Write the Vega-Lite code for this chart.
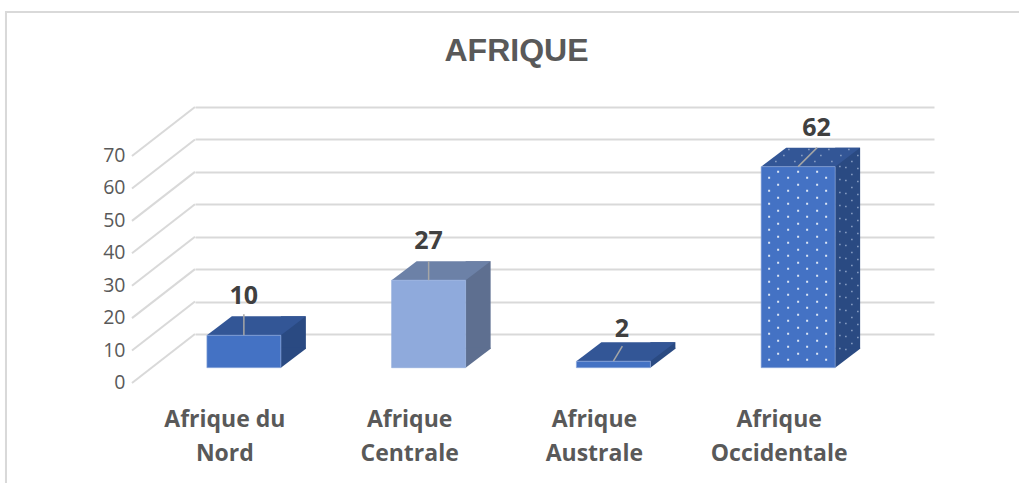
{"$schema":"https://vega.github.io/schema/vega-lite/v6.json","autosize":{"type":"none"},"width":739,"height":227,"padding":{"left":195,"top":107,"right":85,"bottom":149},"background":"white","config":{"view":{"stroke":null},"axisX":{"domain":false,"ticks":false,"labelAngle":0,"labelOffset":-62.5,"labelPadding":74.5,"labelFont":"Open Sans","labelFontWeight":"bold","labelFontSize":23,"labelColor":"#595959","labelLineHeight":33.5,"labelOverlap":false,"labelBound":false,"labelFlush":false,"labelLimit":400,"labelBaseline":"top","labelExpr":"datum.value == 'Afrique du Nord' ? ['Afrique du','Nord'] : split(datum.value,' ')","grid":false},"axisY":{"grid":true,"gridColor":"#D9D9D9","gridWidth":2,"domain":false,"ticks":false,"labelFont":"Open Sans","labelFontSize":19.5,"labelColor":"#595959","labelPadding":70,"labelOffset":48.5,"tickCount":8}},"title":{"text":"AFRIQUE","font":"Liberation Sans","fontWeight":"bold","fontSize":32,"color":"#595959","anchor":"middle","dx":-48,"offset":-60},"data":{"values":[{"region":"Afrique du Nord","value":10},{"region":"Afrique Centrale","value":27},{"region":"Afrique Australe","value":2},{"region":"Afrique Occidentale","value":62}]},"encoding":{"x":{"field":"region","type":"nominal","sort":null,"scale":{"paddingInner":0,"paddingOuter":0},"title":null},"y":{"field":"value","type":"quantitative","scale":{"domain":[0,70],"nice":false},"title":null}},"layer":[{"data":{"values":[{"tick":0},{"tick":10},{"tick":20},{"tick":30},{"tick":40},{"tick":50},{"tick":60},{"tick":70}]},"mark":{"type":"point","shape":"M0 0L-63 49","size":4,"filled":false,"opacity":1,"stroke":"#D9D9D9","strokeWidth":2,"xOffset":-92.4},"encoding":{"x":{"datum":"Afrique du Nord","type":"nominal","title":null},"y":{"field":"tick","type":"quantitative","title":null}}},{"data":{"values":[{"tick":70}]},"mark":{"type":"point","shape":"M-189 376L-189 -95L824 -95","size":4,"filled":false,"opacity":1,"stroke":"#D9D9D9","strokeWidth":2,"xOffset":-92.4},"encoding":{"x":{"datum":"Afrique du Nord","type":"nominal","title":null},"y":{"field":"tick","type":"quantitative","title":null}}},{"mark":{"type":"bar","size":25,"xOffset":6,"yOffset":14.7,"y2Offset":14.7},"encoding":{"y2":{"datum":0},"color":{"condition":{"test":"datum.region === 'Afrique Centrale'","value":"#5E6F90"},"value":"#2A4A82"}}},{"mark":{"type":"point","shape":"M37 0L62 -19L62 -20L37 -20Z","size":4,"filled":true,"opacity":1,"xOffset":-43.5,"yOffset":33.7},"encoding":{"y":{"datum":0,"type":"quantitative","title":null},"color":{"condition":{"test":"datum.region === 'Afrique Centrale'","value":"#5E6F90"},"value":"#2A4A82"}}},{"mark":{"type":"point","shape":"M-37 0L37 0L62 -19L-12 -19Z","size":4,"filled":true,"opacity":1,"xOffset":-43.5,"yOffset":33.7},"encoding":{"color":{"condition":{"test":"datum.region === 'Afrique Centrale'","value":"#6C81A7"},"value":"#335696"}}},{"mark":{"type":"bar","size":74,"xOffset":-43.5,"yOffset":33.7,"y2Offset":33.7,"stroke":"#8FAADC","strokeWidth":0.6},"encoding":{"y2":{"datum":0},"color":{"condition":{"test":"datum.region === 'Afrique Centrale'","value":"#8FAADC"},"value":"#4472C4"}}},{"transform":[{"filter":"datum.region === 'Afrique Occidentale'"}],"mark":{"type":"point","size":4,"filled":true,"opacity":1,"color":"#DCE6F5","xOffset":-43.5,"yOffset":33.7,"shape":"M-21 4h2v2h-2zM-1 4h2v2h-2zM18 4h2v2h-2zM-21 17h2v2h-2zM-1 17h2v2h-2zM18 17h2v2h-2zM-21 30h2v2h-2zM-1 30h2v2h-2zM18 30h2v2h-2zM-21 43h2v2h-2zM-1 43h2v2h-2zM18 43h2v2h-2zM-21 56h2v2h-2zM-1 56h2v2h-2zM18 56h2v2h-2zM-21 69h2v2h-2zM-1 69h2v2h-2zM18 69h2v2h-2zM-21 82h2v2h-2zM-1 82h2v2h-2zM18 82h2v2h-2zM-21 95h2v2h-2zM-1 95h2v2h-2zM18 95h2v2h-2zM-21 108h2v2h-2zM-1 108h2v2h-2zM18 108h2v2h-2zM-21 121h2v2h-2zM-1 121h2v2h-2zM18 121h2v2h-2zM-21 134h2v2h-2zM-1 134h2v2h-2zM18 134h2v2h-2zM-21 147h2v2h-2zM-1 147h2v2h-2zM18 147h2v2h-2zM-21 160h2v2h-2zM-1 160h2v2h-2zM18 160h2v2h-2zM-21 173h2v2h-2zM-1 173h2v2h-2zM18 173h2v2h-2zM-21 186h2v2h-2zM-1 186h2v2h-2zM18 186h2v2h-2zM-30 10h2v2h-2zM-11 10h2v2h-2zM8 10h2v2h-2zM27 10h2v2h-2zM-30 23h2v2h-2zM-11 23h2v2h-2zM8 23h2v2h-2zM27 23h2v2h-2zM-30 36h2v2h-2zM-11 36h2v2h-2zM8 36h2v2h-2zM27 36h2v2h-2zM-30 49h2v2h-2zM-11 49h2v2h-2zM8 49h2v2h-2zM27 49h2v2h-2zM-30 62h2v2h-2zM-11 62h2v2h-2zM8 62h2v2h-2zM27 62h2v2h-2zM-30 75h2v2h-2zM-11 75h2v2h-2zM8 75h2v2h-2zM27 75h2v2h-2zM-30 88h2v2h-2zM-11 88h2v2h-2zM8 88h2v2h-2zM27 88h2v2h-2zM-30 101h2v2h-2zM-11 101h2v2h-2zM8 101h2v2h-2zM27 101h2v2h-2zM-30 114h2v2h-2zM-11 114h2v2h-2zM8 114h2v2h-2zM27 114h2v2h-2zM-30 127h2v2h-2zM-11 127h2v2h-2zM8 127h2v2h-2zM27 127h2v2h-2zM-30 140h2v2h-2zM-11 140h2v2h-2zM8 140h2v2h-2zM27 140h2v2h-2zM-30 153h2v2h-2zM-11 153h2v2h-2zM8 153h2v2h-2zM27 153h2v2h-2zM-30 166h2v2h-2zM-11 166h2v2h-2zM8 166h2v2h-2zM27 166h2v2h-2zM-30 179h2v2h-2zM-11 179h2v2h-2zM8 179h2v2h-2zM27 179h2v2h-2zM-30 192h2v2h-2zM-11 192h2v2h-2zM8 192h2v2h-2zM27 192h2v2h-2z"}},{"transform":[{"filter":"datum.region === 'Afrique Occidentale'"}],"mark":{"type":"point","size":4,"filled":true,"opacity":1,"color":"#8FA3C8","xOffset":-43.5,"yOffset":33.7,"shape":"M-10 -18h1.5v1.5h-1.5zM10 -18h1.5v1.5h-1.5zM30 -18h1.5v1.5h-1.5zM50 -18h1.5v1.5h-1.5zM-15 -12h1.5v1.5h-1.5zM3 -12h1.5v1.5h-1.5zM22 -12h1.5v1.5h-1.5zM42 -12h1.5v1.5h-1.5zM-23 -6h1.5v1.5h-1.5zM-4 -6h1.5v1.5h-1.5zM16 -6h1.5v1.5h-1.5zM33 -6h1.5v1.5h-1.5zM41 -1h1.5v1.5h-1.5zM41 12h1.5v1.5h-1.5zM41 25h1.5v1.5h-1.5zM41 38h1.5v1.5h-1.5zM41 51h1.5v1.5h-1.5zM41 64h1.5v1.5h-1.5zM41 77h1.5v1.5h-1.5zM41 90h1.5v1.5h-1.5zM41 103h1.5v1.5h-1.5zM41 116h1.5v1.5h-1.5zM41 129h1.5v1.5h-1.5zM41 142h1.5v1.5h-1.5zM41 155h1.5v1.5h-1.5zM41 168h1.5v1.5h-1.5zM41 181h1.5v1.5h-1.5zM47 0h1.5v1.5h-1.5zM47 13h1.5v1.5h-1.5zM47 26h1.5v1.5h-1.5zM47 39h1.5v1.5h-1.5zM47 52h1.5v1.5h-1.5zM47 65h1.5v1.5h-1.5zM47 78h1.5v1.5h-1.5zM47 91h1.5v1.5h-1.5zM47 104h1.5v1.5h-1.5zM47 117h1.5v1.5h-1.5zM47 130h1.5v1.5h-1.5zM47 143h1.5v1.5h-1.5zM47 156h1.5v1.5h-1.5zM47 169h1.5v1.5h-1.5zM47 182h1.5v1.5h-1.5zM53 -6h1.5v1.5h-1.5zM53 7h1.5v1.5h-1.5zM53 20h1.5v1.5h-1.5zM53 33h1.5v1.5h-1.5zM53 46h1.5v1.5h-1.5zM53 59h1.5v1.5h-1.5zM53 72h1.5v1.5h-1.5zM53 85h1.5v1.5h-1.5zM53 98h1.5v1.5h-1.5zM53 111h1.5v1.5h-1.5zM53 124h1.5v1.5h-1.5zM53 137h1.5v1.5h-1.5zM53 150h1.5v1.5h-1.5zM53 163h1.5v1.5h-1.5zM53 176h1.5v1.5h-1.5zM59 -12h1.5v1.5h-1.5zM59 1h1.5v1.5h-1.5zM59 14h1.5v1.5h-1.5zM59 27h1.5v1.5h-1.5zM59 40h1.5v1.5h-1.5zM59 53h1.5v1.5h-1.5zM59 66h1.5v1.5h-1.5zM59 79h1.5v1.5h-1.5zM59 92h1.5v1.5h-1.5zM59 105h1.5v1.5h-1.5zM59 118h1.5v1.5h-1.5zM59 131h1.5v1.5h-1.5zM59 144h1.5v1.5h-1.5zM59 157h1.5v1.5h-1.5zM59 170h1.5v1.5h-1.5z"}},{"mark":{"type":"point","size":4,"filled":false,"opacity":1,"stroke":"#A6A6A6","strokeWidth":1.5,"xOffset":-43.5,"yOffset":33.7},"encoding":{"shape":{"field":"region","type":"nominal","legend":null,"scale":{"domain":["Afrique du Nord","Afrique Centrale","Afrique Australe","Afrique Occidentale"],"range":["M0 0L0 -21","M0 0L0 -19","M0 0L9 -15","M0 0L19 -19"]}}}},{"transform":[{"filter":"datum.value >= 10 && datum.value <= 27"}],"mark":{"type":"text","font":"Open Sans","fontWeight":"bold","fontSize":25,"color":"#404040","xOffset":-43.5,"yOffset":-5.5},"encoding":{"text":{"field":"value","type":"quantitative"}}},{"transform":[{"filter":"datum.value === 2"}],"mark":{"type":"text","font":"Open Sans","fontWeight":"bold","fontSize":25,"color":"#404040","xOffset":-35,"yOffset":1.5},"encoding":{"text":{"field":"value","type":"quantitative"}}},{"transform":[{"filter":"datum.value === 62"}],"mark":{"type":"text","font":"Open Sans","fontWeight":"bold","fontSize":25,"color":"#404040","xOffset":-25,"yOffset":-5}, "encoding":{"text":{"field":"value","type":"quantitative"}}}]}
